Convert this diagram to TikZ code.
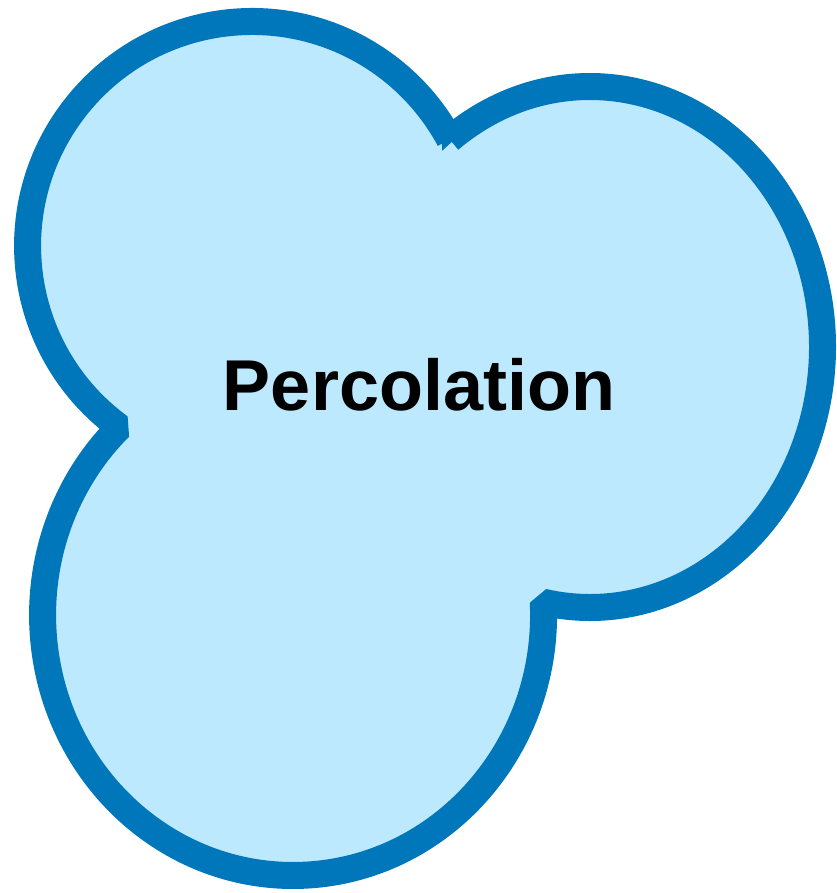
\documentclass[tikz,border=0pt]{standalone}
\usepackage{fontspec}
\setmainfont{Liberation Sans}
\usetikzlibrary{intersections,calc}
\definecolor{edgeblue}{RGB}{0,118,187}
\definecolor{fillblue}{RGB}{189,233,255}
\tikzset{
  blobborder/.style={draw=edgeblue, fill=fillblue, line width=27pt, line join=bevel},
  titletext/.style={font=\bfseries\fontsize{72}{86}\selectfont, text=black, inner sep=0pt}
}
\def\Ar{224.5}
\def\Bx{232.5}
\def\By{260.5}
\def\Cx{250.5}
\def\Cy{260.5}
\begin{document}
\begin{tikzpicture}[x=1pt,y=1pt]
\useasboundingbox (0,0) rectangle (836,-893);
% centres of the three lobes
\coordinate (cA) at (252,-246);
\coordinate (cB) at (590,-347);
\coordinate (cC) at (293,-615);
% partial arcs used to find the outer crossing points
\path[name path=A1] (cA) ++(0:\Ar pt) arc[start angle=0,end angle=90,radius=\Ar pt];
\path[name path=A3] (cA) ++(180:\Ar pt) arc[start angle=180,end angle=270,radius=\Ar pt];
\path[name path=B2] (cB) ++({\Bx*cos(90)},{\By*sin(90)}) arc[start angle=90,end angle=180,x radius=\Bx pt,y radius=\By pt];
\path[name path=B4] (cB) ++({\Bx*cos(225)},{\By*sin(225)}) arc[start angle=225,end angle=300,x radius=\Bx pt,y radius=\By pt];
\path[name path=C1] (cC) ++({\Cx*cos(-30)},{\Cy*sin(-30)}) arc[start angle=-30,end angle=90,x radius=\Cx pt,y radius=\Cy pt];
\path[name path=C2] (cC) ++({\Cx*cos(90)},{\Cy*sin(90)}) arc[start angle=90,end angle=180,x radius=\Cx pt,y radius=\Cy pt];
\path[name intersections={of=A1 and B2, by=PAB}];
\path[name intersections={of=B4 and C1, by=PBC}];
\path[name intersections={of=C2 and A3, by=PCA}];
% parameter angles of the crossing points
\path let \p1=($(PAB)-(cB)$), \p2=($(PBC)-(cB)$) in
  \pgfextra{\pgfmathsetmacro\tmpa{atan2(\y1/\By,\x1/\Bx)}\global\let\tBs\tmpa
            \pgfmathsetmacro\tmpb{atan2(\y2/\By,\x2/\Bx)}\global\let\tBe\tmpb};
\path let \p1=($(PBC)-(cC)$), \p2=($(PCA)-(cC)$) in
  \pgfextra{\pgfmathsetmacro\tmpa{atan2(\y1/\Cy,\x1/\Cx)}\global\let\tCs\tmpa
            \pgfmathsetmacro\tmpb{atan2(\y2/\Cy,\x2/\Cx)}\global\let\tCe\tmpb};
\path let \p1=($(PCA)-(cA)$), \p2=($(PAB)-(cA)$) in
  \pgfextra{\pgfmathsetmacro\tmpa{atan2(\y1,\x1)}\global\let\tAs\tmpa
            \pgfmathsetmacro\tmpb{atan2(\y2,\x2)}\global\let\tAe\tmpb};
\pgfmathsetmacro\tBend{\tBs-mod(\tBs-\tBe+720,360)}
\pgfmathsetmacro\tCend{\tCs-mod(\tCs-\tCe+720,360)}
\pgfmathsetmacro\tAend{\tAs-mod(\tAs-\tAe+720,360)}
% the union outline
\draw[blobborder] (PAB)
  arc[start angle=\tBs, end angle=\tBend, x radius=\Bx pt, y radius=\By pt]
  arc[start angle=\tCs, end angle=\tCend, x radius=\Cx pt, y radius=\Cy pt]
  arc[start angle=\tAs, end angle=\tAend, radius=\Ar pt]
  -- cycle;
\node[titletext, anchor=base] (title) at (419,-410) {Percolation};
\end{tikzpicture}
\end{document}
